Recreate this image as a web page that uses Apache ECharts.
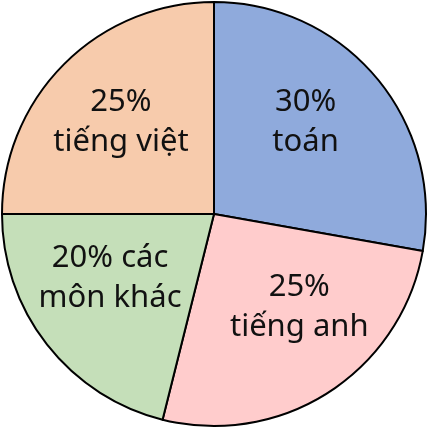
<!DOCTYPE html>
<html>
<head>
<meta charset="utf-8">
<script src="https://cdn.jsdelivr.net/npm/echarts@6/dist/echarts.min.js"></script>
<style>html,body{margin:0;padding:0;background:#fff}#c{width:429px;height:429px}</style>
</head>
<body>
<div id="c"></div>
<script>
// slice sizes as drawn in the picture (degrees / 360), labels as printed
const names = ['toán', 'tiếng anh', 'các môn khác', 'tiếng việt'];
const labels = ['30%\ntoán', '25%\ntiếng anh', '20% các\nmôn khác', '25%\ntiếng việt'];
const values = [27.8, 26.1, 21.1, 25];
const colors = ['#8FAADC', '#FFCCCC', '#C5DFB9', '#F7CBAC'];
const offsets = [[8, -22], [26, 2], [-18, -3], [-16, -15]];

const chart = echarts.init(document.getElementById('c'));
chart.setOption({
  animation: false,
  series: [{
    type: 'pie',
    center: [214, 214],
    radius: [0, 212],
    startAngle: 90,
    clockwise: true,
    data: values.map((v, i) => ({
      value: v,
      name: names[i],
      itemStyle: { color: colors[i] },
      label: { formatter: labels[i], offset: offsets[i] }
    })),
    itemStyle: { borderColor: '#000', borderWidth: 2 },
    label: {
      position: 'inside',
      color: '#111',
      fontSize: 31,
      lineHeight: 40,
      fontFamily: 'Noto Sans'
    },
    labelLine: { show: false }
  }]
});
</script>
</body>
</html>
